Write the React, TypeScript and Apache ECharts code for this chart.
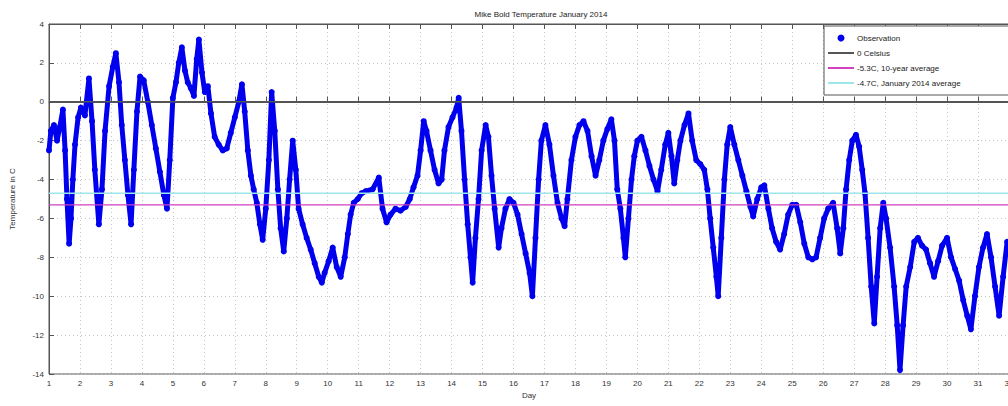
import React, { useEffect, useRef } from "react";
import * as echarts from "echarts";

const titleText = "Mike Bold Temperature January 2014";
const xTickDays = [1, 32];
const yRange = [-14, 4];
const zeroLine = 0;
const tenYearAvg = -5.3;
const monthAvg = -4.7;
const legendNames = ["Observation", "0 Celsius", "-5.3C, 10-year average", "-4.7C, January 2014 average"];

const days = [
  1.0, 1.06, 1.16, 1.26, 1.35, 1.45, 1.52, 1.58, 1.65, 1.71, 1.77, 1.84, 1.94, 2.03, 2.16, 2.29, 2.39, 2.48, 2.61, 2.71,
  2.81, 2.94, 3.06, 3.16, 3.26, 3.35, 3.45, 3.55, 3.65, 3.74, 3.84, 3.94, 4.06, 4.19, 4.32, 4.45, 4.58, 4.71, 4.81, 4.9,
  5.0, 5.1, 5.19, 5.29, 5.39, 5.48, 5.58, 5.68, 5.77, 5.84, 5.94, 6.03, 6.13, 6.23, 6.35, 6.48, 6.61, 6.74, 6.87, 7.0,
  7.13, 7.23, 7.32, 7.42, 7.52, 7.61, 7.71, 7.81, 7.9, 8.0, 8.1, 8.19, 8.29, 8.39, 8.48, 8.58, 8.68, 8.77, 8.87, 8.97,
  9.06, 9.19, 9.32, 9.45, 9.58, 9.71, 9.81, 9.9, 10.03, 10.16, 10.29, 10.42, 10.55, 10.65, 10.74, 10.84, 10.97, 11.1, 11.23, 11.45,
  11.65, 11.77, 11.9, 12.03, 12.19, 12.35, 12.52, 12.65, 12.77, 12.9, 13.0, 13.1, 13.19, 13.32, 13.45, 13.58, 13.68, 13.77, 13.9, 14.03,
  14.16, 14.23, 14.32, 14.42, 14.52, 14.61, 14.68, 14.77, 14.87, 14.97, 15.1, 15.19, 15.29, 15.39, 15.52, 15.61, 15.74, 15.87, 16.0, 16.13,
  16.26, 16.39, 16.52, 16.61, 16.71, 16.81, 16.9, 17.03, 17.16, 17.29, 17.42, 17.55, 17.65, 17.74, 17.87, 18.0, 18.13, 18.26, 18.39, 18.52,
  18.65, 18.77, 18.9, 19.03, 19.16, 19.26, 19.35, 19.45, 19.55, 19.61, 19.71, 19.81, 19.9, 20.0, 20.13, 20.26, 20.39, 20.52, 20.65, 20.77,
  20.9, 21.0, 21.1, 21.19, 21.29, 21.39, 21.52, 21.65, 21.77, 21.9, 22.03, 22.16, 22.26, 22.35, 22.45, 22.55, 22.61, 22.71, 22.81, 22.9,
  23.0, 23.13, 23.26, 23.39, 23.52, 23.65, 23.74, 23.87, 24.0, 24.1, 24.23, 24.35, 24.48, 24.61, 24.74, 24.87, 25.0, 25.13, 25.26, 25.39,
  25.52, 25.65, 25.77, 25.9, 26.03, 26.16, 26.32, 26.45, 26.55, 26.65, 26.74, 26.84, 26.94, 27.06, 27.16, 27.26, 27.35, 27.45, 27.55, 27.65,
  27.74, 27.84, 27.94, 28.03, 28.16, 28.29, 28.39, 28.48, 28.58, 28.68, 28.81, 28.94, 29.06, 29.19, 29.32, 29.45, 29.58, 29.71, 29.84, 30.0,
  30.13, 30.26, 30.39, 30.52, 30.65, 30.77, 30.9, 31.03, 31.16, 31.29, 31.42, 31.55, 31.68, 31.81, 31.94,
];

const temps = [
  -2.5, -1.5, -1.2, -2.0, -1.3, -0.4, -2.5, -5.0, -7.3, -6.0, -4.0, -2.2, -0.8, -0.3, -0.7, 1.2, -1.0, -3.5, -6.3, -4.5,
  -1.5, 0.8, 1.8, 2.5, 1.0, -1.2, -3.0, -4.8, -6.3, -3.5, -0.5, 1.3, 1.1, 0.0, -1.2, -2.4, -3.6, -4.8, -5.5, -3.0,
  0.2, 1.0, 2.0, 2.8, 1.6, 1.0, 0.7, 0.3, 2.2, 3.2, 1.5, 0.5, 0.8, -0.6, -1.8, -2.2, -2.5, -2.4, -1.6, -0.8,
  0.0, 0.9, -0.5, -2.5, -3.8, -4.5, -5.2, -6.3, -7.1, -5.5, -3.0, 0.5, -1.5, -4.5, -6.5, -7.7, -6.0, -4.0, -2.0, -3.5,
  -5.5, -6.3, -7.0, -7.6, -8.3, -9.0, -9.3, -8.8, -8.2, -7.5, -8.5, -9.0, -8.0, -6.8, -5.8, -5.2, -5.0, -4.7, -4.6, -4.5,
  -3.9, -5.5, -6.2, -5.8, -5.5, -5.6, -5.4, -5.0, -4.4, -3.8, -2.5, -1.0, -1.5, -2.5, -3.5, -4.2, -4.0, -2.5, -1.3, -0.8,
  -0.3, 0.2, -1.5, -4.0, -6.3, -8.0, -9.3, -7.0, -5.0, -2.5, -1.2, -1.8, -3.8, -5.5, -7.5, -6.5, -5.5, -5.0, -5.2, -5.8,
  -6.8, -7.8, -8.8, -10.0, -7.0, -4.0, -2.0, -1.2, -2.2, -3.8, -5.2, -6.0, -6.4, -5.0, -3.0, -1.8, -1.2, -1.0, -1.5, -2.8,
  -3.8, -3.0, -2.0, -1.4, -0.9, -2.0, -4.5, -5.5, -7.0, -8.0, -6.0, -4.0, -2.8, -2.0, -1.8, -2.5, -3.3, -4.0, -4.6, -3.5,
  -2.2, -1.6, -2.8, -4.2, -3.0, -2.0, -1.2, -0.6, -2.0, -3.0, -3.2, -3.5, -4.5, -6.0, -7.5, -9.0, -10.0, -7.0, -4.0, -2.2,
  -1.3, -2.2, -3.0, -3.8, -4.6, -5.4, -5.9, -5.0, -4.4, -4.3, -5.5, -6.5, -7.2, -7.6, -6.8, -5.8, -5.3, -5.3, -6.2, -7.3,
  -8.0, -8.1, -8.0, -7.0, -6.0, -5.5, -5.2, -6.5, -7.8, -6.5, -4.5, -3.0, -2.0, -1.7, -2.3, -3.5, -4.7, -7.0, -9.5, -11.4,
  -9.0, -6.5, -5.2, -6.0, -7.5, -9.5, -11.5, -13.8, -11.5, -9.5, -8.5, -7.2, -7.0, -7.4, -7.6, -8.3, -9.0, -8.2, -7.4, -7.0,
  -8.0, -8.6, -9.2, -10.2, -11.0, -11.7, -10.0, -8.5, -7.5, -6.8, -8.0, -9.5, -11.0, -9.0, -7.2,
];

const FONT = "'Liberation Sans', Arial, sans-serif";

export default function App() {
  const ref = useRef<HTMLDivElement>(null);
  useEffect(() => {
    if (!ref.current) return;
    const chart = echarts.init(ref.current, undefined, { renderer: "svg" });
    const obs = days.map((d, i) => [d, temps[i]]);
    const hline = (v: number) => [[xTickDays[0], v], [xTickDays[1], v]];
    const axisCommon = {
      type: "value" as const,
      axisLine: { show: true, lineStyle: { color: "#555", width: 1 } },
      axisTick: { show: true, inside: true, length: 5, lineStyle: { color: "#555" } },
    };
    const hideSymbol = { opacity: 0 };
    chart.setOption({
      animation: false,
      backgroundColor: "#fff",
      textStyle: { fontFamily: FONT },
      title: {
        text: titleText,
        left: 536,
        top: 5,
        textAlign: "center",
        textStyle: { fontSize: 8, fontWeight: "normal", color: "#222", fontFamily: FONT },
      },
      grid: { left: 48, right: 11, top: 24, bottom: 32, show: true, borderColor: "#555", borderWidth: 1, backgroundColor: "#fff" },
      legend: {
        orient: "vertical",
        left: 824,
        top: 26,
        width: 176,
        padding: [8, 60, 8, 3],
        itemGap: 7,
        itemWidth: 26,
        itemHeight: 7,
        backgroundColor: "#fff",
        borderColor: "#555",
        borderWidth: 1,
        textStyle: { fontSize: 8, color: "#222", fontFamily: FONT, padding: [0, 0, 0, -2] },
        data: [
          { name: legendNames[0], icon: "circle", lineStyle: { opacity: 0, width: 0 } },
          { name: legendNames[1], itemStyle: hideSymbol },
          { name: legendNames[2], itemStyle: hideSymbol },
          { name: legendNames[3], itemStyle: hideSymbol },
        ],
      },
      xAxis: [
        {
          ...axisCommon,
          min: xTickDays[0],
          max: xTickDays[1],
          interval: 1,
          name: "Day",
          nameLocation: "middle",
          nameGap: 17,
          nameTextStyle: { fontSize: 8, color: "#333" },
          axisLabel: { fontSize: 8, color: "#333", margin: 5 },
          splitLine: { show: true, lineStyle: { color: "#c4c4c4", type: [1, 3], width: 1 } },
        },
        {
          ...axisCommon,
          position: "top",
          min: xTickDays[0],
          max: xTickDays[1],
          interval: 1,
          axisLabel: { show: false },
          splitLine: { show: false },
        },
      ],
      yAxis: {
        ...axisCommon,
        min: yRange[0],
        max: yRange[1],
        interval: 2,
        name: "Temperature in C",
        nameLocation: "middle",
        nameGap: 33,
        nameTextStyle: { fontSize: 8, color: "#333" },
        axisLabel: { fontSize: 8, color: "#333", margin: 5 },
        splitLine: { show: true, lineStyle: { color: "#c4c4c4", type: [1, 3], width: 1 } },
      },
      series: [
        {
          name: legendNames[0],
          type: "line",
          data: obs,
          symbol: "circle",
          symbolSize: 6,
          showSymbol: true,
          color: "#0000ee",
          itemStyle: { color: "#0000ee" },
          lineStyle: { color: "#0000ee", width: 5 },
          z: 3,
        },
        {
          name: legendNames[1],
          type: "line",
          data: hline(zeroLine),
          symbol: "none",
          color: "#555",
          lineStyle: { color: "#555", width: 1.5 },
          z: 4,
        },
        {
          name: legendNames[2],
          type: "line",
          data: hline(tenYearAvg),
          symbol: "none",
          color: "#d040c0",
          lineStyle: { color: "#d040c0", width: 1.2 },
          z: 4,
        },
        {
          name: legendNames[3],
          type: "line",
          data: hline(monthAvg),
          symbol: "none",
          color: "#9ee6ea",
          lineStyle: { color: "#9ee6ea", width: 1.5 },
          z: 4,
        },
      ],
    });
    return () => chart.dispose();
  }, []);
  return (
    <div style={{ position: "fixed", left: 0, top: 0, width: 1008, height: 406, overflow: "hidden", background: "#fff" }}>
      <div ref={ref} style={{ width: 1020, height: 406 }} />
    </div>
  );
}
